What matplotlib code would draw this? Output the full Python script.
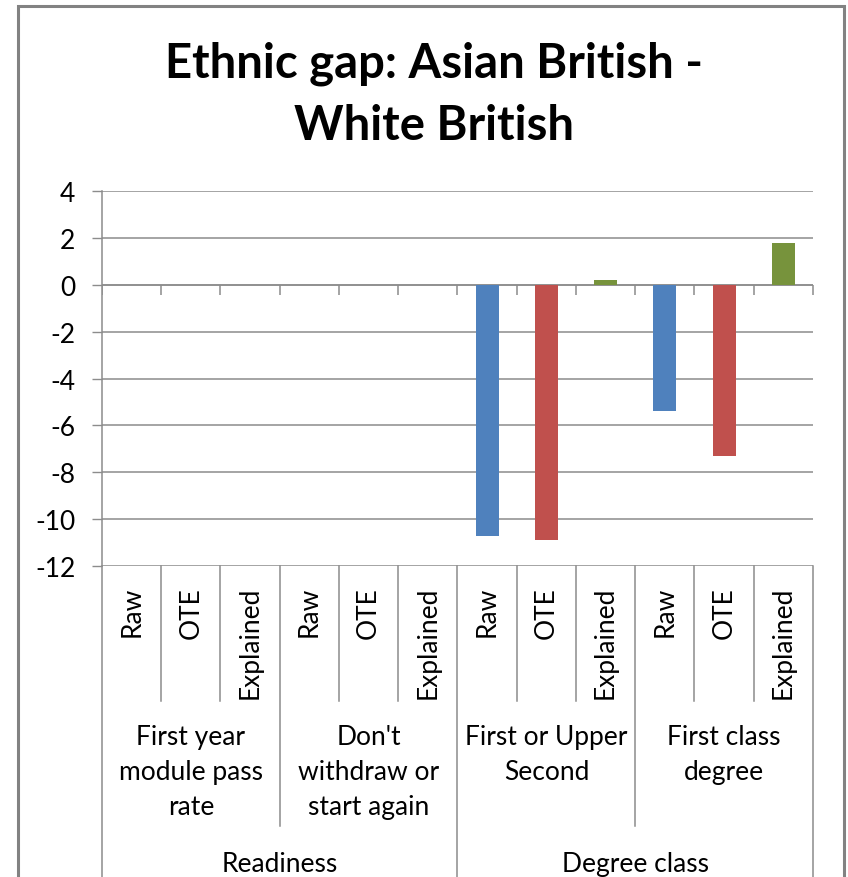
import numpy as np
import matplotlib
matplotlib.use("Agg")
import matplotlib.pyplot as plt
from matplotlib.patches import Rectangle

plt.rcParams["font.family"] = ["Lato", "DejaVu Sans"]

# Data
title_lines = ["Ethnic gap: Asian British -", "White British"]
groups = ["Readiness", "Degree class"]
subgroups = [
    ["First year", "module pass", "rate"],
    ["Don't", "withdraw or", "start again"],
    ["First or Upper", "Second"],
    ["First class", "degree"],
]
measures = ["Raw", "OTE", "Explained"]
raw_vals = [np.nan, np.nan, -10.7, -5.4]
ote_vals = [np.nan, np.nan, -10.9, -7.3]
explained_vals = [np.nan, np.nan, 0.2, 1.8]
yticks = [-12, -10, -8, -6, -4, -2, 0, 2, 4]

colors = ["#4F81BD", "#C0504D", "#77933C"]
line_col = "#8c8c8c"
label_size = 19

W, H = 848, 878
fig = plt.figure(figsize=(W / 100, H / 100), dpi=100)

# plot area in pixels
left_px, right_px, top_px, bot_px = 102, 813, 192, 567
ax = fig.add_axes([left_px / W, 1 - bot_px / H, (right_px - left_px) / W, (bot_px - top_px) / H])
ax_h = bot_px - top_px

def px(dy):
    # pixel offset below the plot area -> axes fraction
    return -dy / ax_h

n_sub = len(subgroups)
n_meas = len(measures)
n_cat = n_sub * n_meas

# bars: one series per measure, interleaved per subgroup
series = [raw_vals, ote_vals, explained_vals]
for m, vals in enumerate(series):
    xs = np.arange(n_sub) * n_meas + m
    ax.bar(xs, vals, width=0.39, color=colors[m], zorder=3)

ax.set_xlim(-0.5, n_cat - 0.5)
ax.set_ylim(yticks[0], yticks[-1])
ax.set_yticks(yticks)
ax.set_yticklabels([str(t) for t in yticks])
ax.tick_params(axis="y", direction="out", length=7.2, width=1.0, color=line_col,
               pad=12, labelsize=label_size, labelcolor="black")
ax.set_xticks([])
ax.grid(axis="y", color=line_col, linewidth=1.1, zorder=0)
ax.set_axisbelow(True)
for side in ["top", "right", "bottom"]:
    ax.spines[side].set_visible(False)
ax.spines["left"].set_color(line_col)
ax.spines["left"].set_linewidth(1.1)

# horizontal axis at zero with downward ticks at category boundaries
bounds = np.arange(n_cat + 1) - 0.5
ax.axhline(0, color=line_col, linewidth=1.1, zorder=2)
ax.plot(bounds, np.zeros_like(bounds), linestyle="none", marker=3, markersize=7.2,
        markeredgewidth=1.1, color=line_col, zorder=2)

# multi-level category axis below the plot
tr = ax.get_xaxis_transform()
for b in bounds:
    i = int(b + 0.5)
    if i % (n_meas * 2) == 0:
        y_end = px(400)
    elif i % n_meas == 0:
        y_end = px(260)
    else:
        y_end = px(135)
    ax.plot([b, b], [0, y_end], transform=tr, color=line_col, linewidth=1.1, clip_on=False)

for k in range(n_cat):
    ax.text(k, px(20), measures[k % n_meas], transform=tr, rotation=90,
            ha="center", va="top", fontsize=label_size)

for s, lines in enumerate(subgroups):
    xc = s * n_meas + (n_meas - 1) / 2
    for j, line in enumerate(lines):
        ax.text(xc, px(178 + 35 * j), line, transform=tr, ha="center",
                va="baseline", fontsize=label_size)

for g, name in enumerate(groups):
    xc = g * n_meas * 2 + (n_meas * 2 - 1) / 2
    ax.text(xc, px(305), name, transform=tr, ha="center", va="baseline",
            fontsize=label_size)

# title
fig.text(434 / W, 1 - 77 / H, title_lines[0], ha="center", va="baseline",
         fontsize=34, fontweight="bold")
fig.text(434 / W, 1 - 140 / H, title_lines[1], ha="center", va="baseline",
         fontsize=34, fontweight="bold")

# chart border
fig.patches.append(Rectangle((18 / W, -0.05), (844 - 18) / W, 1.05 - 7 / H,
                             transform=fig.transFigure, fill=False,
                             edgecolor="#828282", linewidth=2.2))

fig.savefig("out.png", dpi=100, facecolor="white")
